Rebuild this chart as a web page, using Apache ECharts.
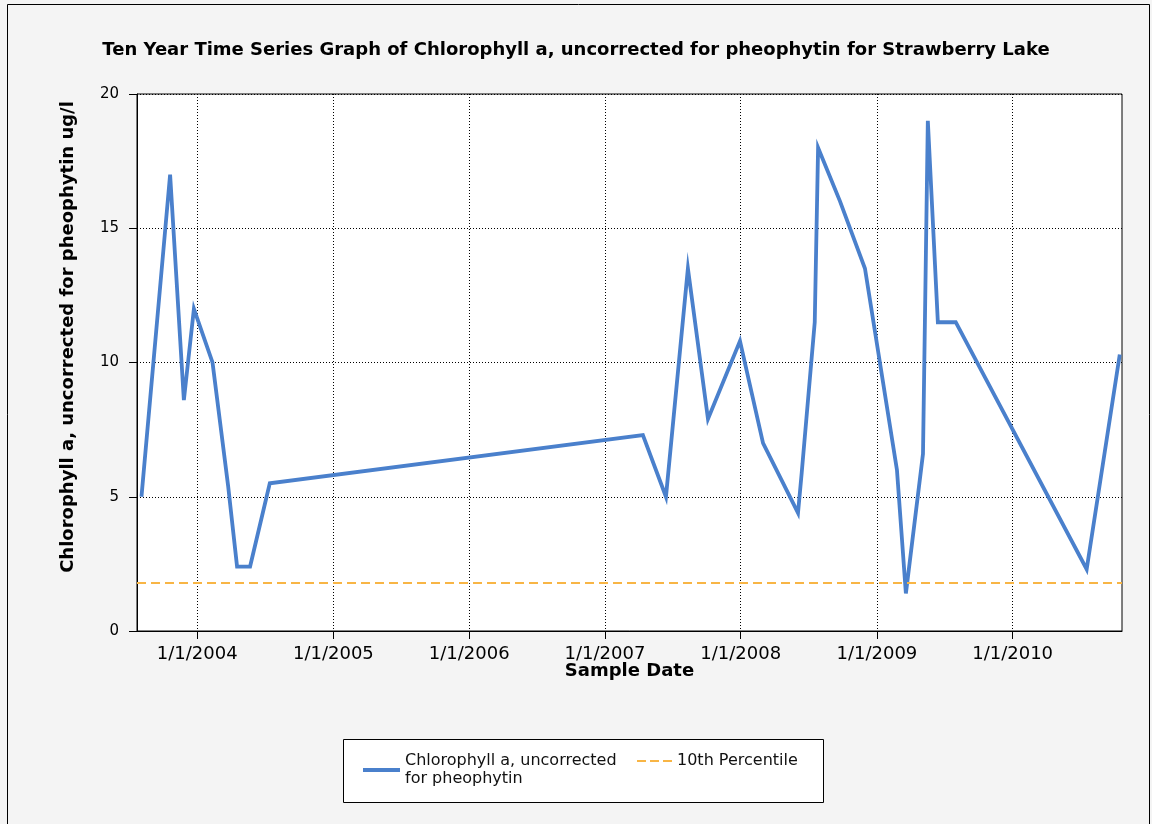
<!DOCTYPE html>
<html>
<head>
<meta charset="utf-8">
<script src="https://cdn.jsdelivr.net/npm/echarts@6/dist/echarts.min.js"></script>
<style>
html,body{margin:0;padding:0;background:#f4f4f4;}
#chart{width:1152px;height:824px;}
</style>
</head>
<body>
<div id="chart"></div>
<script>
// ---- data ----
const sampleDates = [
  '2003-08-04','2003-10-20','2003-11-26','2003-12-23','2004-02-11','2004-03-24',
  '2004-04-17','2004-05-22','2004-07-14','2007-04-13','2007-06-14','2007-08-12',
  '2007-10-05','2007-12-30','2008-03-01','2008-06-03','2008-06-13','2008-07-18',
  '2008-07-27','2008-09-24','2008-11-30','2009-02-24','2009-03-20','2009-05-05',
  '2009-05-18','2009-06-14','2009-08-01','2010-07-19','2010-10-16'
];
const chlorophyllValues = [
  5.0, 17.0, 8.6, 12.0, 10.0, 5.4,
  2.4, 2.4, 5.5, 7.3, 5.0, 13.5,
  7.9, 10.8, 7.0, 4.4, 5.9, 11.5,
  18.0, 16.0, 13.5, 6.0, 1.4, 6.6,
  19.0, 11.5, 11.5, 2.3, 10.3
];
const percentile10 = 1.8;
const xTickDates = ['2004-01-01','2005-01-01','2006-01-01','2007-01-01','2008-01-01','2009-01-01','2010-01-01'];
const yTicks = [0, 5, 10, 15, 20];

const seriesName1 = 'Chlorophyll a, uncorrected for pheophytin';
const seriesName2 = '10th Percentile';

const FONT = '"DejaVu Sans", "Liberation Sans", Arial, sans-serif';
const toTs = d => Date.UTC(+d.slice(0, 4), +d.slice(5, 7) - 1, +d.slice(8, 10));
const xTickValues = xTickDates.map(toTs);

const BLUE = '#4a80cc';
const ORANGE = '#f8b545';

const chart = echarts.init(document.getElementById('chart'));
chart.setOption({
  backgroundColor: '#f4f4f4',
  animation: false,
  textStyle: { fontFamily: FONT },
  title: {
    text: 'Ten Year Time Series Graph of Chlorophyll a, uncorrected for pheophytin for Strawberry Lake',
    left: 'center',
    top: 36,
    textStyle: { fontFamily: FONT, fontSize: 18, fontWeight: 'bold', color: '#000' }
  },
  graphic: [
    { type: 'rect', z: -10, shape: { x: 7.5, y: 4.5, width: 1142, height: 830 },
      style: { fill: 'none', stroke: '#000', lineWidth: 1 } },
    { type: 'rect', z: -5, shape: { x: 343.5, y: 739.5, width: 480, height: 63 },
      style: { fill: '#fff', stroke: '#000', lineWidth: 1 } }
  ],
  legend: [
    {
      data: [seriesName1],
      left: 358, top: 747,
      icon: 'path://M0,0h37v4h-37z',
      itemWidth: 37, itemHeight: 4,
      itemGap: 5,
      itemStyle: { borderWidth: 0 },
      formatter: () => 'Chlorophyll a, uncorrected\nfor pheophytin',
      textStyle: { fontFamily: FONT, fontSize: 16, color: '#111', lineHeight: 18 }
    },
    {
      data: [seriesName2],
      left: 632, top: 747,
      icon: 'path://M0,0h9v2h-9z M13,0h9v2h-9z M26,0h9v2h-9z',
      itemWidth: 35, itemHeight: 2.5,
      itemStyle: { borderWidth: 0 },
      textStyle: { fontFamily: FONT, fontSize: 16, color: '#111', lineHeight: 18 }
    }
  ],
  grid: { left: 137, right: 30, top: 94, bottom: 193, show: true, backgroundColor: '#fff', borderColor: '#000', borderWidth: 1 },
  xAxis: {
    type: 'value',
    min: toTs('2003-07-23'),
    max: toTs('2010-10-22'),
    name: 'Sample Date',
    nameLocation: 'middle',
    nameGap: 31,
    nameMoveOverlap: false,
    nameTextStyle: { fontFamily: FONT, fontSize: 18, fontWeight: 'bold', color: '#000' },
    axisLine: { show: true, onZero: false, lineStyle: { color: '#000', width: 1 } },
    axisTick: { show: true, length: 8, lineStyle: { color: '#000' }, customValues: xTickValues },
    axisLabel: {
      customValues: xTickValues,
      margin: 14,
      fontFamily: FONT, fontSize: 18, color: '#000',
      formatter: v => { const d = new Date(v); return (d.getUTCMonth() + 1) + '/' + d.getUTCDate() + '/' + d.getUTCFullYear(); }
    },
    splitLine: { show: true, lineStyle: { color: '#000', type: [1, 2], width: 1 } }
  },
  yAxis: {
    type: 'value',
    min: yTicks[0], max: yTicks[yTicks.length - 1], interval: 5,
    name: 'Chlorophyll a, uncorrected for pheophytin ug/l',
    nameLocation: 'middle',
    nameGap: 60,
    nameRotate: 90,
    nameTextStyle: { fontFamily: FONT, fontSize: 18, fontWeight: 'bold', color: '#000', padding: [0, 0, 0, 51] },
    axisLine: { show: true, lineStyle: { color: '#000', width: 1 } },
    axisTick: { show: true, length: 8, lineStyle: { color: '#000' } },
    axisLabel: { margin: 18, fontFamily: FONT, fontSize: 15, color: '#000' },
    splitLine: { show: true, lineStyle: { color: '#000', type: [1, 2], width: 1 } }
  },
  series: [
    {
      name: seriesName1,
      type: 'line',
      symbol: 'none',
      data: sampleDates.map((d, i) => [toTs(d), chlorophyllValues[i]]),
      lineStyle: { color: BLUE, width: 3.8, join: 'miter' },
      itemStyle: { color: BLUE },
      z: 3
    },
    {
      name: seriesName2,
      type: 'line',
      symbol: 'none',
      data: [],
      lineStyle: { color: ORANGE, width: 2, type: [9, 5] },
      itemStyle: { color: ORANGE },
      markLine: {
        silent: true, symbol: 'none', label: { show: false },
        lineStyle: { color: ORANGE, width: 2, type: [9, 5] },
        data: [{ yAxis: percentile10 }]
      },
      z: 2
    }
  ]
});
</script>
</body>
</html>
